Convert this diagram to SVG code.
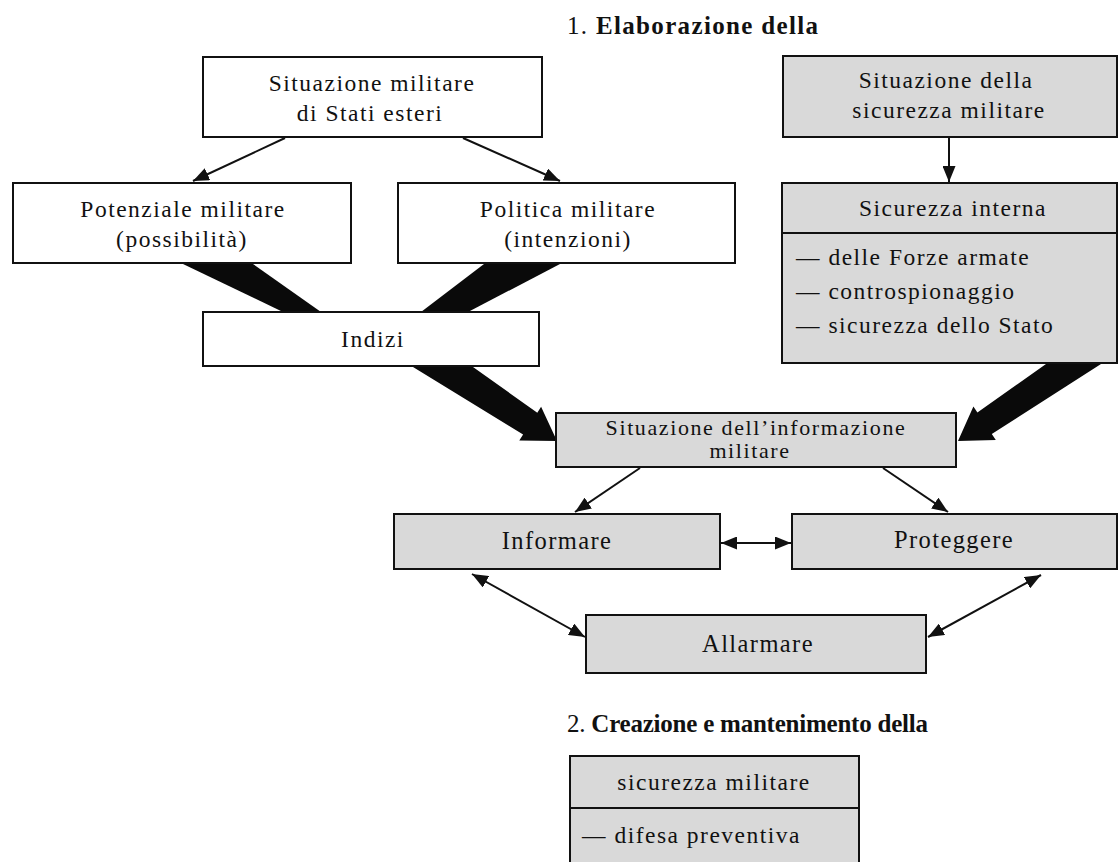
<svg xmlns="http://www.w3.org/2000/svg" width="1119" height="862" viewBox="0 0 1119 862">
  <defs>
    <style>
      .box { fill: #ffffff; stroke: #111; stroke-width: 2; }
      .grey { fill: #d9d9d9; stroke: #111; stroke-width: 2; }
      .div { stroke: #111; stroke-width: 2; }
      .t { font-family: "Liberation Serif", "Times New Roman", serif; font-size: 23.5px; letter-spacing: 1.5px; fill: #111; }
      .n { font-family: "Liberation Serif", "Times New Roman", serif; font-size: 24.5px; letter-spacing: 1.4px; fill: #111; }
      .s { font-size: 22px; letter-spacing: 1.6px; }
      .h { font-family: "Liberation Serif", "Times New Roman", serif; font-size: 25px; fill: #111; }
      .b { font-weight: bold; }
      .c { text-anchor: middle; }
      .thin { stroke: #111; stroke-width: 2; fill: none; }
      .thick { fill: #0a0a0a; stroke: none; }
    </style>
    <marker id="ah" viewBox="0 0 16 13" refX="16" refY="6.5" markerWidth="16" markerHeight="13" markerUnits="userSpaceOnUse" orient="auto-start-reverse">
      <path d="M0,0 L16,6.5 L0,13 z" fill="#111"/>
    </marker>
  </defs>

  <rect width="1119" height="862" fill="#ffffff"/>

  <!-- section headings -->
  <text class="h" x="567" y="34" textLength="251">1. <tspan class="b">Elaborazione della</tspan></text>
  <text class="h" x="567" y="732" textLength="361">2. <tspan class="b">Creazione e mantenimento della</tspan></text>

  <!-- connectors -->
  <g id="connectors">
    <line class="thin" x1="285" y1="138" x2="193" y2="181" marker-end="url(#ah)"/>
    <line class="thin" x1="463" y1="138" x2="560" y2="181" marker-end="url(#ah)"/>
    <line class="thin" x1="949" y1="138" x2="949" y2="182" marker-end="url(#ah)"/>
    <line class="thin" x1="640" y1="468" x2="575" y2="512" marker-end="url(#ah)"/>
    <line class="thin" x1="883" y1="468" x2="948" y2="512" marker-end="url(#ah)"/>
    <line class="thin" x1="721" y1="543" x2="791" y2="543" marker-start="url(#ah)" marker-end="url(#ah)"/>
    <line class="thin" x1="472" y1="574" x2="585" y2="637" marker-start="url(#ah)" marker-end="url(#ah)"/>
    <line class="thin" x1="1041" y1="575" x2="928" y2="637" marker-start="url(#ah)" marker-end="url(#ah)"/>
    <!-- heavy flows -->
    <polygon class="thick" points="183,264 253,264 321,312 283,312"/>
    <polygon class="thick" points="484,264 560,264 468,312 421,312"/>
    <polygon class="thick" points="413,367 473,367 537.3,412.7 541.1,406.8 557,441 519.3,440.4 523.1,434.5"/>
    <polygon class="thick" points="1046,364 1101,364 991.8,434 995.8,440 958,441 973.4,406.4 977.4,412.4"/>
  </g>

  <g id="stati-esteri">
    <rect class="box" x="203" y="57" width="339" height="80"/>
    <text class="t c" x="372" y="91">Situazione militare</text>
    <text class="t c" x="370" y="121">di Stati esteri</text>
  </g>

  <g id="potenziale">
    <rect class="box" x="13" y="183" width="338" height="80"/>
    <text class="t c" x="183" y="217">Potenziale militare</text>
    <text class="t c" x="182" y="247">(possibilità)</text>
  </g>

  <g id="politica">
    <rect class="box" x="398" y="183" width="337" height="80"/>
    <text class="t c" x="568" y="217">Politica militare</text>
    <text class="t c" x="568" y="247">(intenzioni)</text>
  </g>

  <g id="indizi">
    <rect class="box" x="203" y="312" width="336" height="54"/>
    <text class="t c" x="373" y="347">Indizi</text>
  </g>

  <g id="sicurezza-militare">
    <rect class="grey" x="783" y="56" width="334" height="81"/>
    <text class="t c" x="946" y="88">Situazione della</text>
    <text class="t c" x="949" y="118">sicurezza militare</text>
  </g>

  <g id="sicurezza-interna">
    <rect class="grey" x="782" y="183" width="335" height="180"/>
    <line class="div" x1="782" y1="233" x2="1117" y2="233"/>
    <text class="t c" x="953" y="216">Sicurezza interna</text>
    <text class="t" x="796" y="265">— delle Forze armate</text>
    <text class="t" x="796" y="299">— controspionaggio</text>
    <text class="t" x="796" y="333">— sicurezza dello Stato</text>
  </g>

  <g id="informazione-militare">
    <rect class="grey" x="556" y="413" width="400" height="54"/>
    <text class="n s c" x="756" y="435">Situazione dell’informazione</text>
    <text class="n s c" x="750" y="458">militare</text>
  </g>

  <g id="informare">
    <rect class="grey" x="394" y="514" width="326" height="55"/>
    <text class="n c" x="557" y="549">Informare</text>
  </g>

  <g id="proteggere">
    <rect class="grey" x="792" y="514" width="325" height="55"/>
    <text class="n c" x="954" y="548">Proteggere</text>
  </g>

  <g id="allarmare">
    <rect class="grey" x="586" y="615" width="340" height="58"/>
    <text class="n c" x="758" y="652">Allarmare</text>
  </g>

  <g id="sicurezza-difesa">
    <rect class="grey" x="570" y="756" width="289" height="120"/>
    <line class="div" x1="570" y1="808" x2="859" y2="808"/>
    <text class="t c" x="714" y="790">sicurezza militare</text>
    <text class="t" x="582" y="843">— difesa preventiva</text>
  </g>
</svg>
